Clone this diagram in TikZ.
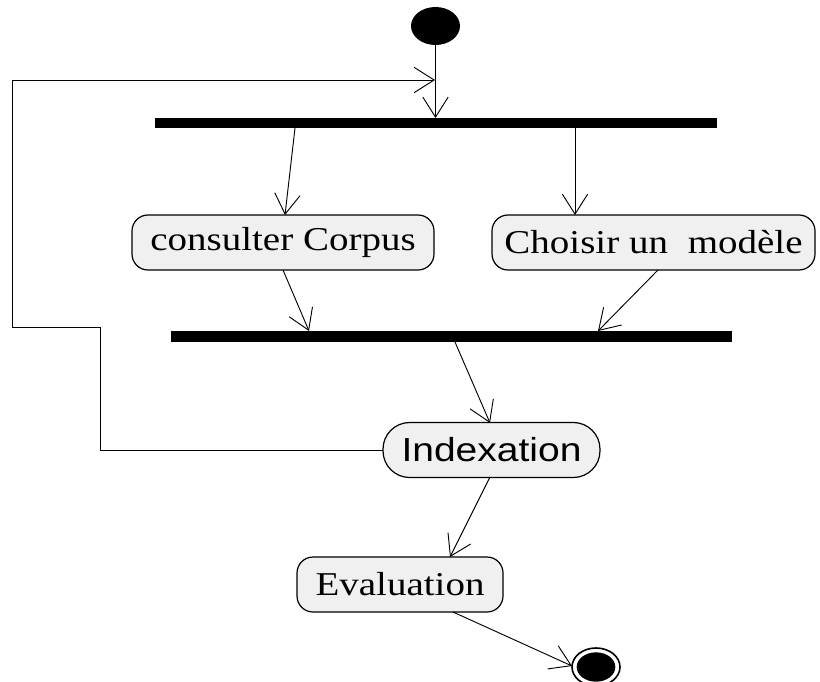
\documentclass[tikz,border=0pt]{standalone}
\usepackage{fontspec}
\setmainfont{Liberation Serif}[FakeStretch=1.17]
\newfontfamily\arialf{Liberation Sans}[FakeStretch=1.17]
\usetikzlibrary{arrows.meta,shapes.geometric}
\definecolor{actfill}{HTML}{F0F0F0}
\begin{document}
\begin{tikzpicture}[x=0.75pt,y=-0.75pt,
  every node/.style={inner sep=0pt,outer sep=0pt},
  action/.style={draw,line width=0.9pt,fill=actfill,rounded corners=12pt,
    minimum height=41.25pt,font=\fontsize{25}{30}\selectfont},
  syncbar/.style={fill=black,rectangle},
  arr/.style={line width=0.7pt,-{Straight Barb[length=15pt,width=19pt,line width=0.7pt]}},
  flow/.style={line width=0.7pt}]
\useasboundingbox (0,0) rectangle (820,681);

% start and end states
\node[ellipse,fill=black,minimum width=36.75pt,minimum height=28.5pt] (start) at (435.5,26) {};
\node[ellipse,draw,line width=1.2pt,minimum width=36pt,minimum height=28.5pt] (endo) at (596,667) {};
\node[ellipse,fill=black,minimum width=29pt,minimum height=22pt] (endi) at (596,667) {};

% fork / join bars
\node[syncbar,minimum width=421.5pt,minimum height=7.5pt] (bar1) at (436,123) {};
\node[syncbar,minimum width=420.75pt,minimum height=8.25pt] (bar2) at (451.5,336.5) {};

% activities
\node[action,minimum width=226.5pt] (corpus) at (283,242.5) {consulter Corpus};
\node[action,minimum width=242.25pt] (choisir) at (653.5,242.5) {Choisir un\hspace{0.3em} modèle};
\node[action,minimum width=162.75pt,rounded corners=20pt,font=\arialf\fontsize{25}{30}\selectfont] (index) at (491.5,450) {Indexation};
\node[action,minimum width=154.5pt] (eval) at (400,584.5) {Evaluation};

% attachment points on the bars and boxes
\coordinate (f1) at (295,128);
\coordinate (f2) at (575,128);
\coordinate (c1) at (285,215);
\coordinate (c2) at (575,215);
\coordinate (co) at (283,270);
\coordinate (ho) at (658,270);
\coordinate (j1) at (309,331);
\coordinate (j2) at (598,331);
\coordinate (j3) at (455,342);
\coordinate (ii) at (490,423);
\coordinate (io) at (490,477);
\coordinate (ei) at (450,557);
\coordinate (eo) at (453,612);
\coordinate (fin) at (572,666);

% loop-back path corners
\coordinate (l1) at (100,450);
\coordinate (l2) at (100,327);
\coordinate (l3) at (12,327);
\coordinate (l4) at (12,80);
\coordinate (l5) at (435,80);

\draw[arr] (start) -- (start |- bar1.north);
\draw[arr] (index.west) -- (l1) -- (l2) -- (l3) -- (l4) -- (l5);
\draw[arr] (f1) -- (c1);
\draw[arr] (f2) -- (c2);
\draw[arr] (co) -- (j1);
\draw[arr] (ho) -- (j2);
\draw[arr] (j3) -- (ii);
\draw[arr] (io) -- (ei);
\draw[arr] (eo) -- (fin);
\end{tikzpicture}
\end{document}
